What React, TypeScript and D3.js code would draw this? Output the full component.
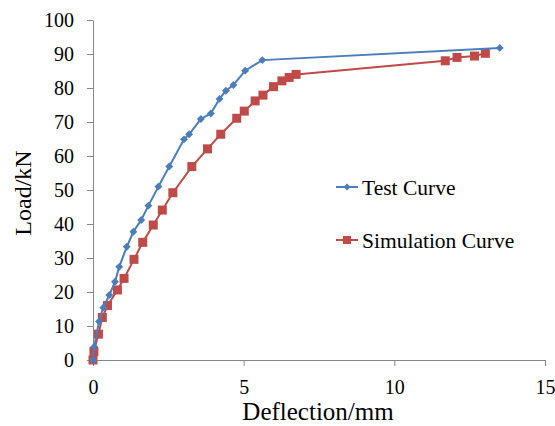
import React, { useEffect, useRef } from 'react';
import * as d3 from 'd3';

// 荷重-たわみ曲線のデータ
const testDeflection = [0, 0.04, 0.2, 0.34, 0.54, 0.73, 0.87, 1.12, 1.34, 1.6, 1.84, 2.17, 2.53, 3.02, 3.19, 3.58, 3.91, 4.2, 4.41, 4.66, 5.05, 5.62, 13.5];
const testLoad = [0, 3.9, 11.3, 15.4, 19.1, 23.0, 27.4, 33.3, 37.7, 41.2, 45.4, 51.0, 56.9, 64.9, 66.4, 70.9, 72.5, 76.8, 79.2, 80.9, 85.1, 88.2, 91.8];

const simDeflection = [0, 0.03, 0.18, 0.31, 0.48, 0.81, 1.03, 1.36, 1.65, 2.0, 2.3, 2.65, 3.28, 3.8, 4.24, 4.77, 5.02, 5.38, 5.64, 5.99, 6.27, 6.51, 6.74, 11.69, 12.08, 12.66, 13.02];
const simLoad = [0, 2.5, 7.6, 12.5, 16.0, 20.6, 24.0, 29.6, 34.6, 39.7, 44.1, 49.2, 56.9, 62.1, 66.4, 71.1, 73.2, 76.2, 77.9, 80.4, 82.1, 83.1, 84.0, 88.0, 89.0, 89.4, 90.2];

const xTicks = [0, 5, 10, 15];
const yTicks = [0, 10, 20, 30, 40, 50, 60, 70, 80, 90, 100];
const seriesNames = ['Test Curve', 'Simulation Curve'];

const W = 555;
const H = 426;
const FONT = 'Liberation Serif';

const App = () => {
  const svgRef = useRef<SVGSVGElement | null>(null);

  useEffect(() => {
    const svg = d3.select(svgRef.current);
    svg.selectAll('*').remove();

    const x = d3.scaleLinear().domain([0, 15]).range([93, 545]);
    const y = d3.scaleLinear().domain([0, 100]).range([360, 20]);
    const axisColor = '#868686';

    // 軸
    const xAxis = svg.append('g')
      .attr('transform', `translate(0,${y(0)})`)
      .call(d3.axisBottom(x).tickValues(xTicks).tickSize(6).tickPadding(14).tickSizeOuter(0));
    const yAxis = svg.append('g')
      .attr('transform', `translate(${x(0)},0)`)
      .call(d3.axisLeft(y).tickValues(yTicks).tickSize(6).tickPadding(13).tickSizeOuter(0));

    [xAxis, yAxis].forEach(g => {
      g.attr('font-family', FONT).attr('font-size', 20);
      g.select('.domain').attr('stroke', axisColor);
      g.selectAll('.tick line').attr('stroke', axisColor);
      g.selectAll('.tick text').attr('fill', '#000');
    });

    // 軸タイトル
    svg.append('text')
      .attr('x', 318)
      .attr('y', 420)
      .attr('text-anchor', 'middle')
      .attr('font-family', FONT)
      .attr('font-size', 25)
      .text('Deflection/mm');

    svg.append('text')
      .attr('transform', 'translate(31,193) rotate(-90)')
      .attr('text-anchor', 'middle')
      .attr('font-family', FONT)
      .attr('font-size', 24)
      .text('Load/kN');

    const line = d3.line<[number, number]>()
      .x(d => x(d[0]))
      .y(d => y(d[1]));

    const testData: [number, number][] = testDeflection.map((d, i) => [d, testLoad[i]]);
    const simData: [number, number][] = simDeflection.map((d, i) => [d, simLoad[i]]);

    const blue = '#4A7EBB';
    const red = '#BE4B48';

    // シミュレーション曲線
    svg.append('path')
      .datum(simData)
      .attr('d', line)
      .attr('fill', 'none')
      .attr('stroke', red)
      .attr('stroke-width', 2);

    svg.append('g').selectAll('rect')
      .data(simData)
      .enter()
      .append('rect')
      .attr('x', d => x(d[0]) - 4.5)
      .attr('y', d => y(d[1]) - 4.5)
      .attr('width', 9)
      .attr('height', 9)
      .attr('fill', red);

    // 試験曲線
    svg.append('path')
      .datum(testData)
      .attr('d', line)
      .attr('fill', 'none')
      .attr('stroke', blue)
      .attr('stroke-width', 2);

    const diamond = d3.symbol().type(d3.symbolDiamond2).size(40);
    svg.append('g').selectAll('path')
      .data(testData)
      .enter()
      .append('path')
      .attr('d', diamond)
      .attr('transform', d => `translate(${x(d[0])},${y(d[1])})`)
      .attr('fill', blue);

    // 凡例
    const legendY = [187, 240];
    const legendColors = [blue, red];
    seriesNames.forEach((name, i) => {
      const g = svg.append('g').attr('transform', `translate(336,${legendY[i]})`);
      g.append('line')
        .attr('x1', 0).attr('x2', 22)
        .attr('stroke', legendColors[i])
        .attr('stroke-width', 2);
      if (i === 0) {
        g.append('path')
          .attr('d', d3.symbol().type(d3.symbolDiamond2).size(30))
          .attr('transform', 'translate(11,0)')
          .attr('fill', blue);
      } else {
        g.append('rect')
          .attr('x', 7).attr('y', -4)
          .attr('width', 8).attr('height', 8)
          .attr('fill', red);
      }
      g.append('text')
        .attr('x', 26)
        .attr('y', 8)
        .attr('font-family', FONT)
        .attr('font-size', 21.5)
        .text(name);
    });
  }, []);

  return (
    <svg
      ref={svgRef}
      width={W}
      height={H}
      style={{ position: 'absolute', left: 0, top: 0, background: '#fff' }}
    />
  );
};

export default App;
